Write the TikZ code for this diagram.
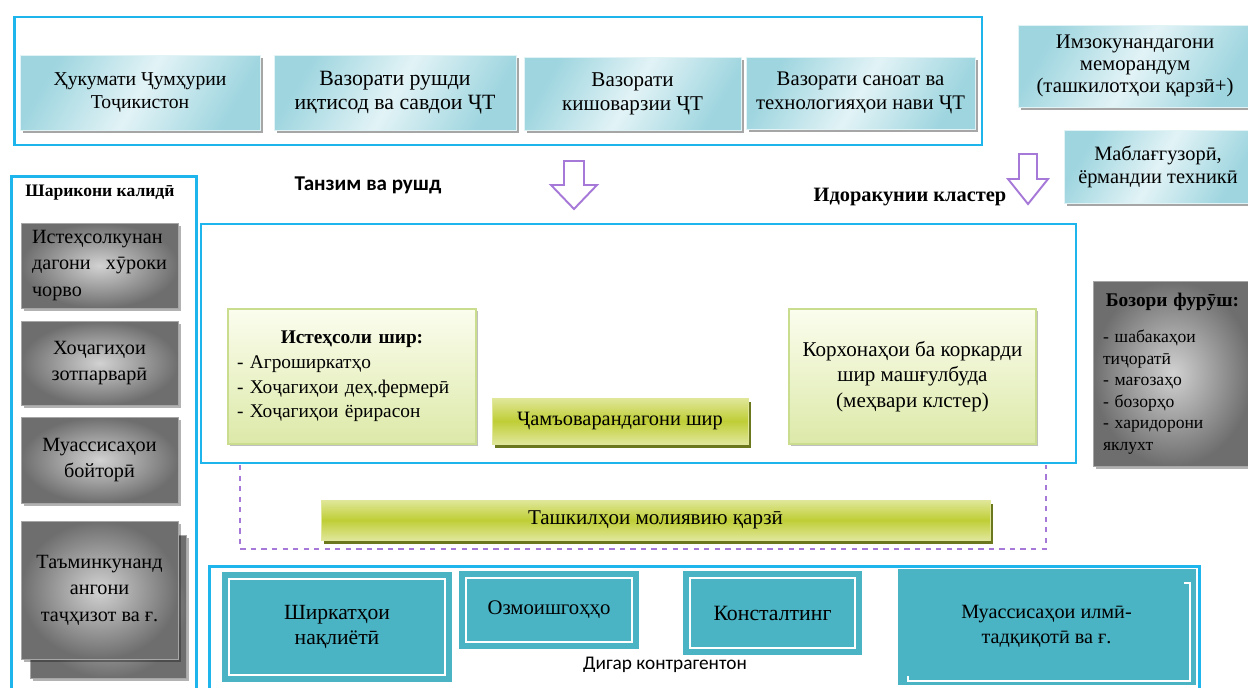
\documentclass[tikz,border=0pt]{standalone}
\usepackage{fontspec}
\setmainfont{Liberation Serif}
\newfontfamily\calibrifont{Carlito}
\usetikzlibrary{shadows}

\definecolor{frameblue}{HTML}{1EB4EC}
\definecolor{cyanlight}{HTML}{E2F3F6}
\definecolor{cyandeep}{HTML}{9ED5DF}
\definecolor{greenlight}{HTML}{FBFDEE}
\definecolor{greendeep}{HTML}{DCE9A8}
\definecolor{greenline}{HTML}{CADD8E}
\definecolor{olivelight}{HTML}{E0E79A}
\definecolor{olivemid}{HTML}{BFCE36}
\definecolor{olivedark}{HTML}{6B781D}
\definecolor{tealfill}{HTML}{4AB3C4}
\definecolor{arrowpurple}{HTML}{A678D8}
\definecolor{graydark}{HTML}{6E6E6E}
\definecolor{graylight}{HTML}{D2D2D2}

\begin{document}
\begin{tikzpicture}[
    x=0.02cm, y=-0.02cm,
    frame/.style={draw=frameblue, line width=1.6pt, inner sep=0pt},
    cyanbox/.style={rectangle, top color=cyandeep, bottom color=cyandeep, middle color=cyanlight, shading angle=60,
        draw=cyanlight, drop shadow={shadow xshift=1.5pt, shadow yshift=-1.5pt, fill=black, opacity=0.35},
        align=center, font=\fontsize{11.8}{13.6}\selectfont},
    graybox/.style={rectangle, inner color=graylight, outer color=graydark, draw=gray!70,
        drop shadow={shadow xshift=1.5pt, shadow yshift=-1.5pt, fill=black, opacity=0.3},
        minimum width=3.14cm, align=center, font=\fontsize{11.5}{15}\selectfont},
    greenbox/.style={rectangle, top color=greenlight, bottom color=greendeep, draw=greenline, line width=0.8pt,
        drop shadow={shadow xshift=1.2pt, shadow yshift=-1.2pt, fill=black, opacity=0.25},
        minimum height=2.7cm, font=\fontsize{11}{14}\selectfont},
    olivebox/.style={rectangle, top color=olivelight, bottom color=olivelight, middle color=olivemid, draw=olivelight,
        drop shadow={shadow xshift=1.5pt, shadow yshift=-2pt, fill=olivedark, opacity=1},
        font=\fontsize{11.6}{13.6}\selectfont},
    tealbox/.style={rectangle, fill=tealfill, draw=tealfill, double=white, double distance=1.1pt, line width=3.5pt,
        align=center, font=\fontsize{11.8}{14}\selectfont},
    tealplain/.style={rectangle, fill=tealfill, draw=tealfill, align=center, font=\fontsize{11.5}{14}\selectfont},
    hollowarrow/.style={draw=arrowpurple, line width=1.1pt, fill=white, line join=miter},
    boldlabel/.style={font=\fontsize{11.6}{14}\selectfont\bfseries}
]
\useasboundingbox (0,0) rectangle (1248,687);

% Frames
\node[frame, minimum width=19.36cm, minimum height=2.56cm] (topframe) at (498,81) {};
\node[frame, minimum width=3.7cm, minimum height=10.5cm, anchor=north west] (partnerframe) at (10,175) {};
\node[frame, minimum width=17.5cm, minimum height=4.78cm] (clusterframe) at (638.5,343.5) {};
\node[frame, minimum width=19.8cm, minimum height=2.7cm, anchor=north west] (otherframe) at (208,565) {};
\draw[arrowpurple, line width=0.9pt, dashed] (240,465) |- (1046,549) -- (1046,465);

% Top row
\node[cyanbox, minimum width=4.8cm, minimum height=1.5cm, font=\fontsize{11.2}{13.6}\selectfont] (government) at (140,92.5) {Ҳукумати Ҷумҳурии\\Тоҷикистон};
\node[cyanbox, minimum width=4.84cm, minimum height=1.5cm, font=\fontsize{12.4}{13.6}\selectfont] (economy) at (395,92.5) {Вазорати рушди\\иқтисод ва савдои ҶТ};
\node[cyanbox, minimum width=4.34cm, minimum height=1.46cm, font=\fontsize{12}{13.6}\selectfont] (agriculture) at (632.5,93.5) {Вазорати\\кишоварзии ҶТ};
\node[cyanbox, minimum width=4.58cm, minimum height=1.44cm] (industry) at (860.5,93) {Вазорати саноат ва\\технологияҳои нави ҶТ};
\node[cyanbox, minimum width=4.68cm, minimum height=1.64cm, font=\fontsize{11.8}{12.6}\selectfont] (memorandum) at (1135,66) {Имзокунандагони\\меморандум\\(ташкилотҳои қарзӣ+)};
\node[cyanbox, minimum width=3.76cm, minimum height=1.46cm, font=\fontsize{11.6}{13.2}\selectfont] (funding) at (1158,166.5) {Маблағгузорӣ,\\ёрмандии техникӣ};

% Block arrows
\draw[hollowarrow, shift={(574,161)}] (-10,0) -- (10,0) -- (10,24) -- (23,24) -- (0,48) -- (-23,24) -- (-10,24) -- cycle;
\draw[hollowarrow, shift={(1028,154)}] (-9,0) -- (9,0) -- (9,25) -- (20,25) -- (0,50) -- (-20,25) -- (-9,25) -- cycle;
\node[boldlabel, font=\calibrifont\fontsize{12}{14}\selectfont\bfseries] (tanzim) at (368,185) {Танзим ва рушд};
\node[boldlabel] (governance) at (910,197) {Идоракунии кластер};

% Key partners
\node[font=\fontsize{10}{12}\selectfont\bfseries] (partners) at (100,193) {Шарикони калидӣ};
\node[graybox, minimum height=1.7cm, text width=2.7cm, align=left] (feed) at (99.5,265.5) {Истеҳсолкунан\\дагони\hfill хӯроки\\чорво};
\node[graybox, minimum height=1.68cm] (breeding) at (99.5,363) {Хоҷагиҳои\\зотпарварӣ};
\node[graybox, minimum height=1.72cm] (veterinary) at (99.5,460) {Муассисаҳои\\бойторӣ};
\node[graybox, minimum width=3.12cm, minimum height=2.86cm] (supplyback) at (108,606.5) {};
\node[graybox, minimum height=2.76cm] (supply) at (99.5,590) {Таъминкунанд\\ангони\\таҷҳизот ва ғ.};

% Cluster
\node[greenbox, minimum width=4.96cm, text width=4.6cm, align=left] (production) at (352,376.5)
    {\makebox[\linewidth]{\bfseries Истеҳсоли шир:}\\- Агроширкатҳо\\- Хоҷагиҳои деҳ.фермерӣ\\- Хоҷагиҳои ёрирасон};
\node[olivebox, minimum width=5.12cm, minimum height=0.92cm] (collectors) at (620,421) {Ҷамъоварандагони шир};
\node[greenbox, minimum width=4.94cm, align=center, font=\fontsize{12}{14.5}\selectfont] (processing) at (912.5,376.5) {Корхонаҳои ба коркарди\\шир машғулбуда\\(меҳвари клстер)};
\node[rectangle, inner color=graylight, outer color=graydark, draw=gray!70,
    drop shadow={shadow xshift=1.5pt, shadow yshift=-1.5pt, fill=black, opacity=0.3},
    minimum width=3.18cm, minimum height=3.7cm, text width=2.78cm, align=left, font=\fontsize{10}{12.2}\selectfont] (market) at (1172.5,373.5)
    {\makebox[\linewidth]{\bfseries\fontsize{11}{13}\selectfont Бозори фурӯш:}\\[0.3cm]- шабакаҳои\\тиҷоратӣ\\- мағозаҳо\\- бозорҳо\\- харидорони\\яклухт};
\node[olivebox, minimum width=13.38cm, minimum height=0.8cm, font=\fontsize{12}{13.6}\selectfont] (credit) at (655.5,520) {Ташкилҳои молиявию қарзӣ};

% Other counterparties
\node[tealbox, minimum width=4.31cm, minimum height=1.91cm, font=\fontsize{12.3}{14}\selectfont] (transport) at (337,627) {Ширкатҳои\\нақлиётӣ};
\node[tealbox, minimum width=3.31cm, minimum height=1.27cm] (laboratory) at (549,610) {Озмоишгоҳҳо};
\node[tealbox, minimum width=3.29cm, minimum height=1.39cm, font=\fontsize{12.4}{14}\selectfont] (consulting) at (772.5,613) {Консталтинг};
\node[tealplain, minimum width=5.94cm, minimum height=2.3cm] (research) at (1046.5,626.5) {Муассисаҳои илмӣ-\\тадқиқотӣ ва ғ.};
\draw[white, line width=1pt] ([shift={(-11,14)}]research.north east) -- ([shift={(-5,14)}]research.north east)
    -- ([shift={(-5,-3)}]research.south east) -- ([shift={(10,-3)}]research.south west) -- ([shift={(10,-8)}]research.south west);
\node[font=\calibrifont\fontsize{11}{13}\selectfont] (others) at (665,665) {Дигар контрагентон};

\end{tikzpicture}
\end{document}
